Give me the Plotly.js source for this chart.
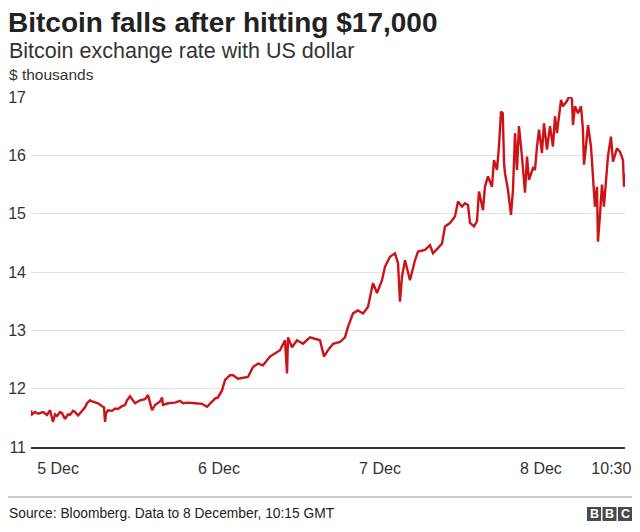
<!DOCTYPE html>
<html>
<head>
<meta charset="utf-8">
<script src="https://cdn.plot.ly/plotly-3.0.1.min.js"></script>
<style>html,body{margin:0;padding:0;background:#fff;}#chart{width:640px;height:532px;}</style>
</head>
<body>
<div id="chart"></div>
<script>
// Hours since 5 Dec 00:00 (approx)
const hours = [-4.03,-3.88,-3.43,-2.98,-2.24,-1.64,-1.19,-0.75,-0.45,-0.15,0.30,0.60,1.04,1.49,1.79,2.24,2.53,2.98,3.28,3.73,4.03,4.32,4.77,5.07,5.52,5.96,6.56,6.86,7.01,7.16,7.45,8.05,8.50,8.94,9.54,9.99,10.29,10.73,11.48,12.22,12.97,13.42,14.01,14.46,15.21,15.50,15.65,16.40,17.44,18.19,18.63,19.38,20.42,21.47,22.21,22.66,23.40,23.85,24.45,24.90,25.34,25.64,26.09,26.83,28.32,29.07,29.82,30.56,31.6,32.35,33.09,33.84,34.14,34.29,34.88,35.63,36.52,37.57,38.31,39.06,39.65,40.25,41.0,42.04,42.78,43.23,43.98,44.72,45.47,46.21,46.96,47.55,48.3,48.75,49.49,50.24,50.69,50.98,51.28,51.73,52.47,53.22,53.67,54.71,55.46,55.9,56.65,57.25,57.69,58.44,59.18,59.63,60.23,60.67,61.12,61.42,62.02,62.46,62.76,63.36,63.65,64.1,64.7,64.99,65.44,65.74,66.04,66.3,66.5,66.64,67.08,67.53,67.83,68.13,68.43,68.72,69.17,69.62,69.92,70.21,70.81,71.11,71.41,71.71,72.15,72.45,72.9,73.35,73.79,74.09,74.39,74.99,75.28,75.88,76.33,76.63,76.77,77.07,77.52,77.97,78.26,78.41,78.71,79.01,79.46,79.75,80.05,80.35,80.5,80.8,81.1,81.39,81.69,81.99,82.44,82.74,83.33,83.78,84.23,84.38,84.53];
// Bitcoin price, $ thousands
const price = [11.63,11.56,11.6,11.57,11.6,11.55,11.63,11.43,11.56,11.53,11.6,11.58,11.48,11.56,11.55,11.62,11.6,11.54,11.58,11.63,11.68,11.75,11.8,11.78,11.76,11.75,11.7,11.68,11.43,11.58,11.63,11.62,11.66,11.65,11.7,11.72,11.8,11.87,11.75,11.8,11.82,11.89,11.63,11.72,11.78,11.85,11.72,11.75,11.76,11.79,11.75,11.76,11.75,11.74,11.69,11.75,11.83,11.85,11.97,12.15,12.2,12.23,12.23,12.17,12.2,12.37,12.43,12.4,12.55,12.6,12.66,12.83,12.26,12.88,12.71,12.83,12.77,12.88,12.86,12.83,12.55,12.66,12.77,12.8,12.88,13.06,13.29,13.34,13.29,13.4,13.81,13.64,13.86,14.09,14.26,14.32,14.15,13.49,13.92,14.2,13.86,14.2,14.35,14.38,14.46,14.32,14.41,14.49,14.78,14.84,14.95,15.21,15.12,15.18,15.15,14.84,14.78,14.87,15.38,15.06,15.46,15.64,15.46,15.92,15.75,16.15,16.75,16.72,15.86,15.69,15.41,14.98,15.41,16.38,15.75,16.5,15.98,15.36,15.98,15.58,15.78,15.75,16.15,16.44,16.04,16.55,16.1,16.5,16.15,16.67,16.38,16.95,16.84,16.93,17.04,16.95,16.52,16.84,16.72,16.84,16.44,15.84,16.15,16.52,16.15,15.69,15.12,15.46,14.52,14.98,15.5,15.12,15.58,15.98,16.32,15.89,16.12,16.06,15.92,15.46,15.69];
const yTicks = [11,12,13,14,15,16,17];
const xTickVals = [0,24,48,72,82.5];
const xTickText = ['5 Dec','6 Dec','7 Dec','8 Dec','10:30'];

const L = 31, R = 625, T = 97, B = 447;
const px = x => (x - L) / (R - L);
const py = y => (B - y) / (B - T);
const FONT = 'Liberation Sans, Arial, Helvetica, sans-serif';

const trace = {
  x: hours, y: price, type: 'scatter', mode: 'lines',
  line: {color: '#cc1418', width: 2.4}, hoverinfo: 'skip'
};

const ann = (text, x, y, size, color) => ({
  text, xref: 'paper', yref: 'paper', x: px(x), y: py(y),
  xanchor: 'left', yanchor: 'middle', showarrow: false,
  font: {family: FONT, size, color}
});

const annotations = [
  ann('<b>Bitcoin falls after hitting $17,000</b>', 6, 22, 28, '#222'),
  ann('Bitcoin exchange rate with US dollar', 7, 51, 21.5, '#333'),
  ann('$ thousands', 7, 75, 15.5, '#333'),
  ann('Source: Bloomberg. Data to 8 December, 10:15 GMT', 7, 513, 13.8, '#222'),
];
const shapes = [
  {type: 'line', xref: 'paper', yref: 'paper', x0: px(8), x1: px(632), y0: py(497), y1: py(497),
   line: {color: '#999', width: 1}}
];
['B','B','C'].forEach((c, i) => {
  const x0 = 587 + i * 15.5;
  shapes.push({type: 'rect', xref: 'paper', yref: 'paper', x0: px(x0), x1: px(x0 + 14),
    y0: py(521), y1: py(507), fillcolor: '#4a4a4a', line: {width: 0}});
  annotations.push({text: '<b>' + c + '</b>', xref: 'paper', yref: 'paper', x: px(x0 + 7), y: py(514),
    xanchor: 'center', yanchor: 'middle', showarrow: false,
    font: {family: FONT, size: 12.5, color: '#fff'}});
});

const layout = {
  width: 640, height: 532,
  margin: {l: L, r: 640 - R, t: T, b: 532 - B},
  paper_bgcolor: '#fff', plot_bgcolor: '#fff',
  showlegend: false,
  font: {family: FONT, color: '#333'},
  xaxis: {
    range: [-4.03, 84.53], tickvals: xTickVals, ticktext: xTickText,
    showgrid: false, zeroline: false, ticks: '', ticklabelstandoff: 6,
    showline: true, linecolor: '#333', linewidth: 2,
    tickfont: {family: FONT, size: 16, color: '#333'}, fixedrange: true
  },
  yaxis: {
    range: [11, 17], tickvals: yTicks, showgrid: true, gridcolor: '#e2e2e2', gridwidth: 1,
    zeroline: false, ticks: '', ticklabelstandoff: 4,
    tickfont: {family: FONT, size: 16, color: '#333'}, fixedrange: true
  },
  annotations, shapes
};

Plotly.newPlot('chart', [trace], layout, {displayModeBar: false, staticPlot: true});
</script>
</body>
</html>
